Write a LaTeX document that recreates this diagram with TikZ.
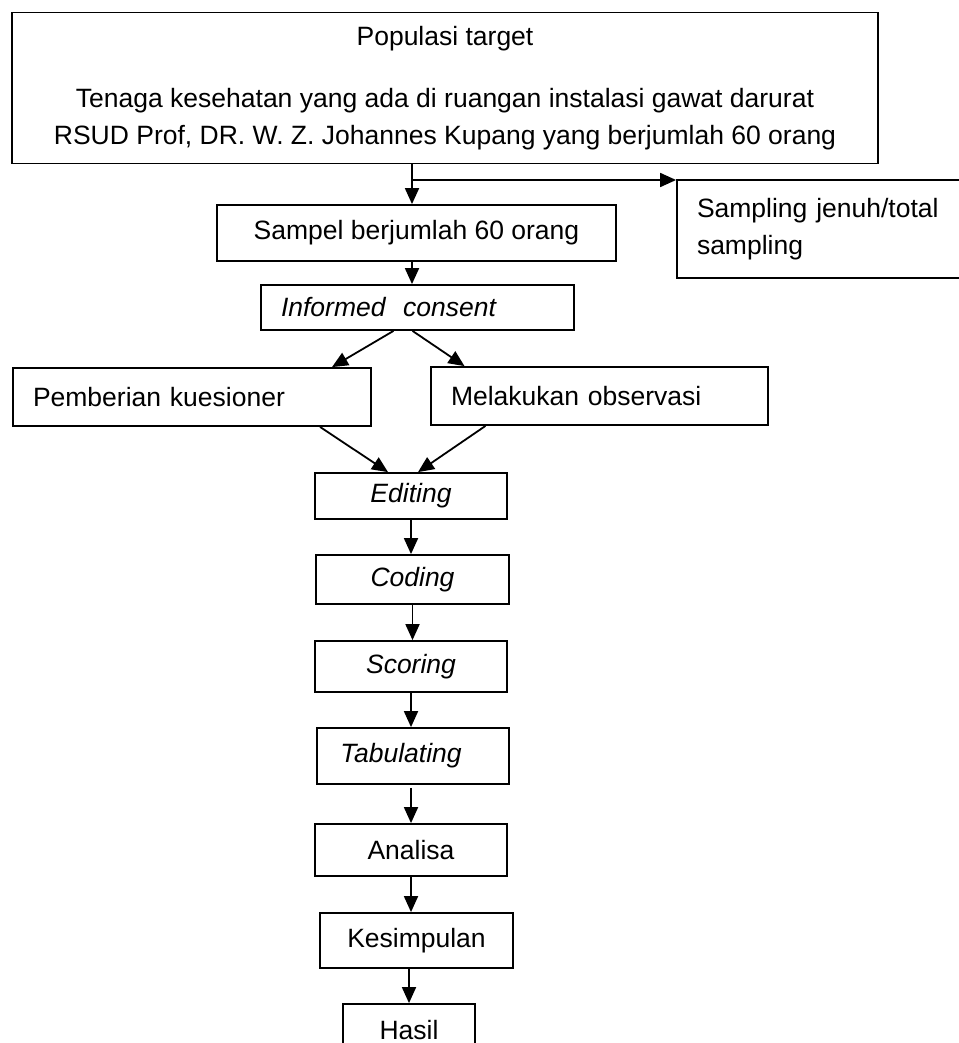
\documentclass[tikz,border=0pt]{standalone}
\usepackage{fontspec}
\setmainfont{Liberation Sans}
\usetikzlibrary{calc}
\usetikzlibrary{arrows.meta}
\tikzset{
	box/.style={draw, line width=1.8pt, align=center, inner sep=0pt},
	leftbox/.style={box, align=left, inner xsep=20pt},
	arr/.style={line width=1.8pt, -{Triangle[length=16pt,width=14pt]}},
}

\begin{document}
\begin{tikzpicture}[x=1pt,y=-1pt, font=\fontsize{26.5}{37}\selectfont]
	\useasboundingbox (0,0) rectangle (958,1043);
	\node[box, minimum width=866pt, minimum height=151pt] (pop) at (445,88) {Populasi target\\[25pt]
		Tenaga kesehatan yang ada di ruangan instalasi gawat darurat\\
		RSUD Prof, DR. W. Z. Johannes Kupang yang berjumlah 60 orang};
	\node[box, minimum width=399pt, minimum height=56pt] (sampel) at (416.5,233) {Sampel berjumlah 60 orang};
	\node[leftbox, text width=283pt, minimum height=98pt] (sampling) at (838.5,229) {Sampling jenuh/total\\sampling};
	\node[leftbox, text width=273pt, minimum height=45pt] (inf) at (417.5,307.5) {\itshape Informed\ \ consent};
	\node[leftbox, text width=318pt, minimum height=58pt] (pemb) at (192,397) {Pemberian kuesioner};
	\node[leftbox, text width=297pt, minimum height=58pt] (mel) at (599.5,396) {Melakukan observasi};
	\node[box, minimum width=192pt, minimum height=46pt] (edit) at (411,496) {\itshape Editing};
	\node[box, minimum width=193pt, minimum height=49pt] (cod) at (412.5,579.5) {\itshape Coding};
	\node[box, minimum width=192pt, minimum height=51pt] (scor) at (411,666.5) {\itshape Scoring};
	\node[box, minimum width=192pt, minimum height=56pt] (tab) at (413,756) {\itshape Tabulating\hspace{24pt}};
	\node[box, minimum width=192pt, minimum height=52pt] (anal) at (411,850) {Analisa};
	\node[box, minimum width=193pt, minimum height=55pt] (kes) at (416.5,940.5) {Kesimpulan};
	\node[box, minimum width=132pt, minimum height=52pt] (hasil) at (409,1030) {Hasil};
	\coordinate (fork) at (412,180);
	\draw[arr] (fork |- pop.south) -- (fork |- sampel.north);
	\draw[arr] (fork) -- (fork -| sampling.west);
	\draw[arr] (fork |- sampel.south) -- (fork |- inf.north);
	\draw[arr] ($(inf.south)+(-24,0)$) -- ($(pemb.north)+(140,0)$);
	\draw[arr] ($(inf.south)+(-5,0)$) -- ($(mel.north)+(-135,0)$);
	\draw[arr] ($(pemb.south)+(128,0)$) -- ($(edit.north)+(-23,0)$);
	\draw[arr] ($(mel.south)+(-114,0)$) -- ($(edit.north)+(7,0)$);
	\draw[arr] (edit.south) -- (edit.south |- cod.north);
	\draw[arr] (cod.south) -- (cod.south |- scor.north);
	\draw[arr] (scor.south) -- (scor.south |- tab.north);
	\draw[arr] ($(tab.south)+(-2,3)$) -- ($(tab.south |- anal.north)+(-2,0)$);
	\draw[arr] (anal.south) -- (anal.south |- kes.north);
	\draw[arr] (kes.south -| hasil.north) -- (hasil.north);
\end{tikzpicture}
\end{document}
